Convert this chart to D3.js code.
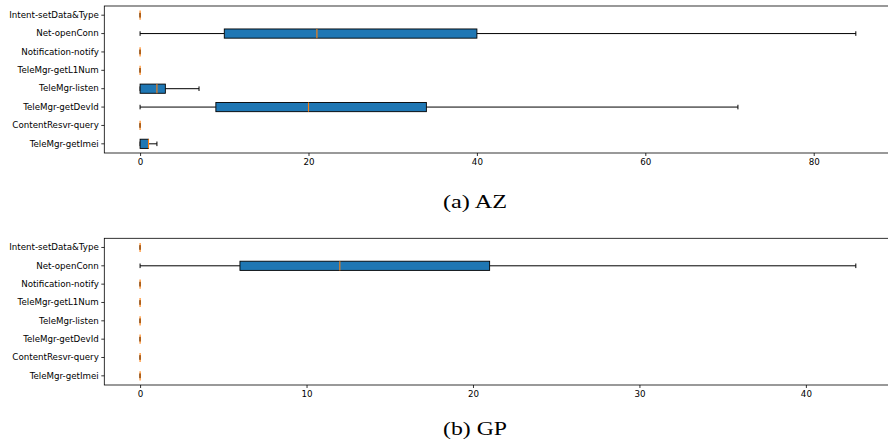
<!DOCTYPE html>
<html>
<head>
<meta charset="utf-8">
<script src="https://cdn.jsdelivr.net/npm/d3@7"></script>
<style>
    body { margin: 0; background: #fff; }
    svg { display: block; }
</style>
</head>
<body>
<svg id="chart" width="888" height="446"></svg>
<script>
// categories, top to bottom
const categories = ["Intent-setData&Type", "Net-openConn", "Notification-notify", "TeleMgr-getL1Num",
    "TeleMgr-listen", "TeleMgr-getDevId", "ContentResvr-query", "TeleMgr-getImei"];

// (a) AZ box stats
const azMin = [0, 0, 0, 0, 0, 0, 0, 0];
const azQ1 = [0, 10, 0, 0, 0, 9, 0, 0];
const azMedian = [0, 21, 0, 0, 2, 20, 0, 1];
const azQ3 = [0, 40, 0, 0, 3, 34, 0, 1];
const azMax = [0, 85, 0, 0, 7, 71, 0, 2];
const azTicks = [0, 20, 40, 60, 80];

// (b) GP box stats
const gpMin = [0, 0, 0, 0, 0, 0, 0, 0];
const gpQ1 = [0, 6, 0, 0, 0, 0, 0, 0];
const gpMedian = [0, 12, 0, 0, 0, 0, 0, 0];
const gpQ3 = [0, 21, 0, 0, 0, 0, 0, 0];
const gpMax = [0, 43, 0, 0, 0, 0, 0, 0];
const gpTicks = [0, 10, 20, 30, 40];

const captions = ["(a) AZ", "(b) GP"];

const svg = d3.select("#chart");
const boxFill = "#1f77b4";
const medianColor = "#ff7f0e";
const fontSans = "'DejaVu Sans', sans-serif";

function buildRows(mins, q1s, meds, q3s, maxs) {
    return categories.map((c, i) => ({
        name: c, min: mins[i], q1: q1s[i], med: meds[i], q3: q3s[i], max: maxs[i]
    }));
}

function drawPanel(rows, ticks, top, bottom, caption, captionY) {
    let left = 104.3, right = 891.6;
    let hi = d3.max(rows, d => d.max), lo = d3.min(rows, d => d.min);
    let pad = (hi - lo) * 0.05;
    let x = d3.scaleLinear().domain([lo - pad, hi + pad]).range([left, right]);
    let y = d3.scaleBand().domain(categories).range([top, bottom]).padding(0);
    let bw = y.bandwidth();
    let boxH = bw * 0.5;
    let capH = boxH * 0.5;

    let g = svg.append("g");

    let row = g.selectAll("g.row").data(rows).enter().append("g")
        .attr("class", "row")
        .attr("transform", d => `translate(0,${y(d.name) + bw / 2})`);

    // whiskers
    row.append("line")
        .attr("x1", d => x(d.min)).attr("x2", d => x(d.q1))
        .attr("y1", 0).attr("y2", 0)
        .attr("stroke", "#000").attr("stroke-width", 1);
    row.append("line")
        .attr("x1", d => x(d.q3)).attr("x2", d => x(d.max))
        .attr("y1", 0).attr("y2", 0)
        .attr("stroke", "#000").attr("stroke-width", 1);
    // caps
    row.append("line")
        .attr("x1", d => x(d.min)).attr("x2", d => x(d.min))
        .attr("y1", -capH / 2).attr("y2", capH / 2)
        .attr("stroke", "#000").attr("stroke-width", 1);
    row.append("line")
        .attr("x1", d => x(d.max)).attr("x2", d => x(d.max))
        .attr("y1", -capH / 2).attr("y2", capH / 2)
        .attr("stroke", "#000").attr("stroke-width", 1);
    // box
    row.append("rect")
        .attr("x", d => x(d.q1))
        .attr("width", d => x(d.q3) - x(d.q1))
        .attr("y", -boxH / 2).attr("height", boxH)
        .attr("fill", boxFill).attr("stroke", "#000").attr("stroke-width", 0.9);
    // median
    row.append("line")
        .attr("x1", d => x(d.med)).attr("x2", d => x(d.med))
        .attr("y1", -boxH / 2).attr("y2", boxH / 2)
        .attr("stroke", medianColor).attr("stroke-width", 1.1);

    // axes
    let xAxis = d3.axisBottom(x).tickValues(ticks).tickSize(3).tickPadding(2.5).tickSizeOuter(0);
    let xg = g.append("g").attr("transform", `translate(0,${bottom})`).call(xAxis);
    let yAxis = d3.axisLeft(y).tickSize(3).tickPadding(2.5).tickSizeOuter(0);
    let yg = g.append("g").attr("transform", `translate(${left},0)`).call(yAxis);
    [xg, yg].forEach(a => {
        a.select(".domain").remove();
        a.selectAll(".tick line").attr("stroke", "#000").attr("stroke-width", 0.8);
        a.selectAll(".tick text").attr("fill", "#000")
            .style("font-family", fontSans).style("font-size", "8.7px");
    });

    // frame
    g.append("rect")
        .attr("x", left).attr("y", top)
        .attr("width", right - left).attr("height", bottom - top)
        .attr("fill", "none").attr("stroke", "#000").attr("stroke-width", 0.8);

    svg.append("text")
        .attr("x", 475).attr("y", captionY)
        .attr("text-anchor", "middle")
        .attr("textLength", 64).attr("lengthAdjust", "spacingAndGlyphs")
        .style("font-family", "'Liberation Serif', 'DejaVu Serif', serif")
        .style("font-size", "18px")
        .text(caption);
}

drawPanel(buildRows(azMin, azQ1, azMedian, azQ3, azMax), azTicks, 6, 153, captions[0], 208.3);
drawPanel(buildRows(gpMin, gpQ1, gpMedian, gpQ3, gpMax), gpTicks, 238.3, 385, captions[1], 435);
</script>
</body>
</html>
